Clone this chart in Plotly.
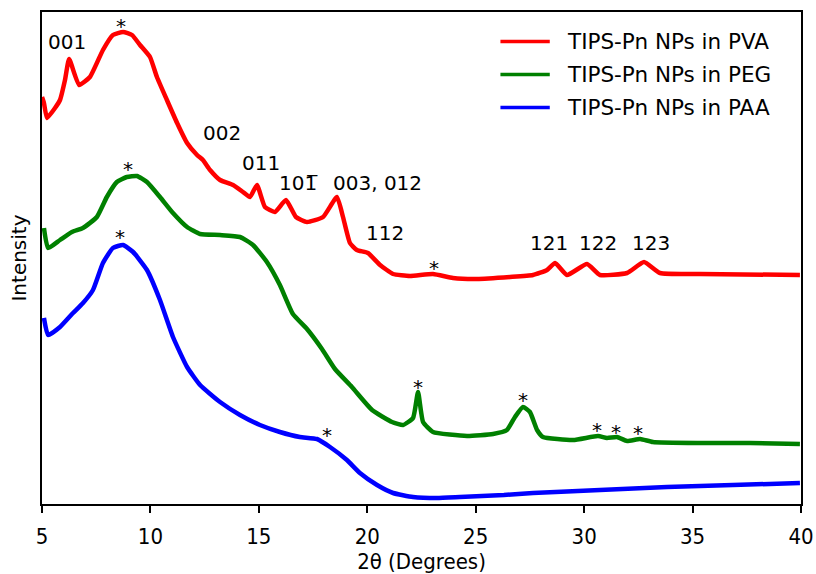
import plotly.graph_objects as go

# ---- data (2theta in degrees, intensity in arbitrary units) ----
pva_2theta = [5.00, 5.09, 5.23, 5.60, 5.83, 6.06, 6.25, 6.71, 7.21, 7.81, 8.27, 8.74, 9.15, 9.52,
              9.98, 10.30, 10.76, 11.23, 11.69, 12.15, 12.42, 12.75, 13.21, 13.81, 14.27, 14.59,
              14.91, 15.28, 15.74, 16.25, 16.71, 17.22, 17.96, 18.60, 18.88, 19.20, 19.52, 20.03,
              20.59, 21.19, 21.97, 23.03, 23.95, 25.06, 26.58, 27.64, 28.29, 28.66, 29.21, 30.13,
              30.73, 31.98, 32.76, 33.50, 35.34, 39.95]
pva_int = [407, 401, 386, 396, 404, 424, 445, 419, 427, 454, 469, 472, 469, 459,
           447, 427, 404, 381, 361, 349, 344, 334, 324, 319, 312, 307,
           319, 297, 292, 304, 287, 282, 287, 307, 287, 261, 254, 251,
           239, 230, 228, 230, 226, 225, 227, 229, 234, 241, 229, 240,
           229, 231, 242, 231, 230, 229]

peg_2theta = [5.09, 5.28, 5.83, 6.38, 6.89, 7.53, 7.99, 8.45, 8.91, 9.38, 9.84, 10.44, 11.04, 11.69,
              12.29, 13.21, 14.13, 14.73, 15.37, 15.97, 16.57, 17.22, 17.91, 18.51, 19.29, 20.22,
              21.14, 21.65, 22.11, 22.34, 22.57, 23.03, 24.60, 25.80, 26.44, 26.81, 27.18, 27.50,
              27.83, 28.10, 29.49, 30.64, 31.05, 31.51, 31.98, 32.58, 33.17, 35.34, 37.65, 39.95]
peg_int = [276, 256, 264, 272, 276, 287, 307, 322, 327, 328, 322, 307, 291, 277,
           270, 269, 267, 259, 242, 219, 190, 175, 155, 135, 117, 94,
           82, 79, 86, 112, 82, 72, 68, 70, 74, 87, 97, 92,
           74, 67, 64, 68, 66, 67, 63, 65, 62, 61, 61, 60]

paa_2theta = [5.09, 5.28, 5.83, 6.43, 6.89, 7.35, 7.81, 8.27, 8.74, 9.20, 9.84, 10.44, 11.04, 11.69,
              12.29, 13.21, 14.13, 15.05, 15.97, 16.89, 17.68, 18.28, 19.06, 19.66, 20.45, 21.19,
              22.11, 23.21, 24.27, 26.30, 27.64, 30.73, 33.82, 36.86, 39.95]
paa_int = [186, 169, 177, 191, 201, 214, 241, 256, 259, 252, 234, 204, 167, 137,
           119, 102, 89, 79, 72, 67, 65, 57, 44, 31, 19, 11,
           7, 6, 7, 9, 11, 14, 17, 19, 21]

series_names = ["TIPS-Pn NPs in PVA", "TIPS-Pn NPs in PEG", "TIPS-Pn NPs in PAA"]
series_colors = ["#FF0000", "#008000", "#0000FF"]

# peak labels: (2theta, intensity, text)
hkl_labels = [(6.15, 462, "001"), (13.30, 371, "002"), (15.10, 341, "011"), (16.85, 321, "101\u0305"),
              (20.45, 321, "003, 012"), (20.82, 271, "112"), (28.38, 261, "121"), (30.64, 261, "122"),
              (33.09, 261, "123")]
# star marks: (2theta, intensity)
stars = [(8.65, 482), (23.07, 240), (8.97, 339), (22.34, 121), (27.18, 108), (30.59, 78),
         (31.47, 76), (32.48, 75), (8.60, 271), (18.14, 73)]

traces_x = [pva_2theta, peg_2theta, paa_2theta]
traces_y = [pva_int, peg_int, paa_int]

fig = go.Figure()
for xs, ys, name, col in zip(traces_x, traces_y, series_names, series_colors):
    fig.add_trace(go.Scatter(x=xs, y=ys, mode="lines", name=name, showlegend=False,
                             line=dict(color=col, width=4.5, shape="spline", smoothing=0.45)))

font_main = "DejaVu Sans, Verdana, sans-serif"
font_axis = "DejaVu Sans Condensed, DejaVu Sans, sans-serif"
for x, y, t in hkl_labels:
    fig.add_annotation(x=x, y=y, text=t, showarrow=False, xref="x", yref="y",
                       font=dict(family=font_main, size=20, color="black"))
for x, y in stars:
    fig.add_annotation(x=x, y=y, text="*", showarrow=False, xref="x", yref="y", yshift=-4,
                       font=dict(family=font_main, size=20, color="black"))

# legend drawn as line samples + text in paper coordinates
leg_rows_y = [0.940, 0.873, 0.806]
for name, col, ly in zip(series_names, series_colors, leg_rows_y):
    fig.add_shape(type="line", xref="paper", yref="paper", x0=0.604, x1=0.669, y0=ly, y1=ly,
                  line=dict(color=col, width=3.5))
    fig.add_annotation(x=0.689, y=ly, xref="paper", yref="paper", text=name, showarrow=False,
                       xanchor="left", yanchor="middle",
                       font=dict(family=font_main, size=21.5, color="black"))

fig.update_layout(
    width=816, height=574,
    margin=dict(l=42, r=15, t=12, b=70, autoexpand=False),
    paper_bgcolor="white", plot_bgcolor="white",
    showlegend=False,
)
fig.update_xaxes(range=[5, 40], tickvals=[5, 10, 15, 20, 25, 30, 35, 40],
                 ticks="outside", ticklen=7, tickwidth=2, tickcolor="black",
                 showline=True, linewidth=2, linecolor="black", mirror=True,
                 showgrid=False, zeroline=False, ticklabelstandoff=5, automargin=False,
                 tickfont=dict(family=font_axis, size=22, color="black"),
                 title=dict(text="2θ (Degrees)", standoff=4,
                            font=dict(family=font_axis, size=22, color="black")))
fig.update_yaxes(range=[0, 492], showticklabels=False, ticks="",
                 showline=True, linewidth=2, linecolor="black", mirror=True,
                 showgrid=False, zeroline=False, automargin=False,
                 title=dict(text="Intensity", standoff=8,
                            font=dict(family=font_main, size=20, color="black")))

fig.write_html("out.html")
